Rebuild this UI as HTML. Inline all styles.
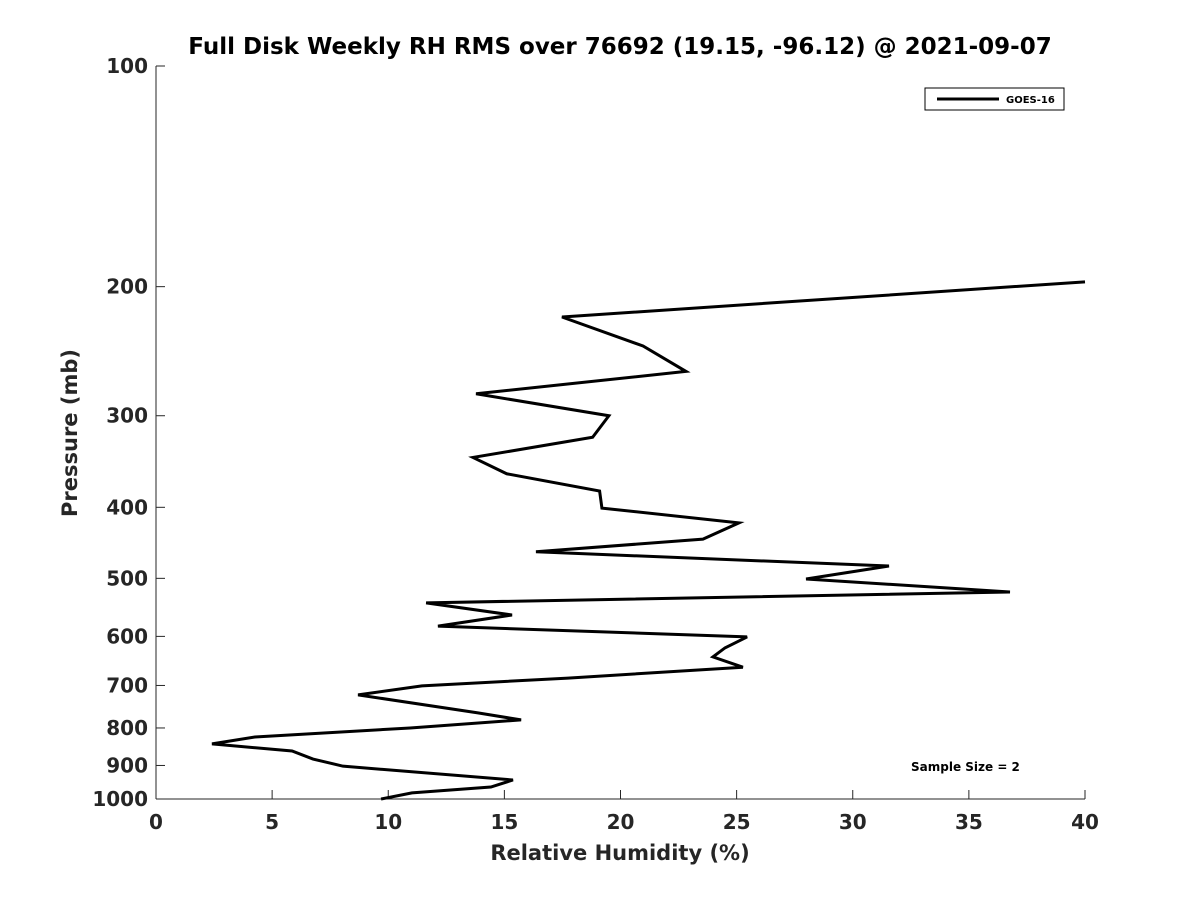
<!DOCTYPE html>
<html><head><meta charset="utf-8"><style>
body{margin:0;background:#fff;}
svg text{font-family:"DejaVu Sans","Liberation Sans",sans-serif;font-weight:bold;fill:#262626;}
</style></head><body>
<svg id="chart" width="1200" height="900" xmlns="http://www.w3.org/2000/svg">
<rect width="1200" height="900" fill="#fff"/>
<text x="620" y="54" font-size="23" text-anchor="middle" style="fill:#000">Full Disk Weekly RH RMS over 76692 (19.15, -96.12) @ 2021-09-07</text>
<g id="axes"></g>
<polyline id="line" fill="none" stroke="#000" stroke-width="3" stroke-linejoin="miter"/>
<g>
<rect x="925" y="88" width="139" height="22" fill="#fff" stroke="#000" stroke-width="1"/>
<line x1="937" y1="99" x2="999" y2="99" stroke="#000" stroke-width="3"/>
<text x="1006" y="103" font-size="10" style="fill:#000">GOES-16</text>
</g>
<text x="911" y="771" font-size="12" style="fill:#000">Sample Size = 2</text>
<text x="620" y="860" font-size="21" text-anchor="middle">Relative Humidity (%)</text>
<text transform="translate(77,433) rotate(-90)" font-size="21" text-anchor="middle">Pressure (mb)</text>
</svg>
<script>
const rh=[40,17.48,20.97,22.82,13.78,19.5,18.8,13.65,15.1,19.1,19.2,25.1,23.55,16.36,31.56,27.99,36.77,11.63,15.33,12.14,25.45,24.5,23.98,25.27,17.74,11.45,8.7,13.86,15.72,10.94,4.26,2.41,5.86,6.76,8.05,15.37,14.42,11.02,9.69];
const pres=[197,220,241,261,280,300,321,342,360,380,401,420,442,460,481,501,522,540,561,581,601,622,640,661,684,701,721,763,780,800,823,841,860,882,902,942,963,981,1000];
const xTicks=[0,5,10,15,20,25,30,35,40];
const yTicks=[100,200,300,400,500,600,700,800,900,1000];
const X0=156,X1=1085,Y0=66,Y1=799;
const sx=v=>X0+(v-0)/40*(X1-X0);
const sy=p=>Y0+Math.log10(p/100)*(Y1-Y0);
const NS="http://www.w3.org/2000/svg";
const ax=document.getElementById('axes');
function mk(t,a){const e=document.createElementNS(NS,t);for(const k in a)e.setAttribute(k,a[k]);ax.appendChild(e);return e;}
const xl=mk('line',{x1:X0,y1:Y1,x2:X1,y2:Y1,stroke:'#262626','stroke-width':1});


const yl=mk('line',{x1:X0,y1:Y0,x2:X0,y2:Y1,stroke:'#262626','stroke-width':1});


xTicks.forEach(v=>{
 mk('line',{x1:sx(v),y1:Y1,x2:sx(v),y2:Y1-9,stroke:'#262626'});
 const t=mk('text',{x:sx(v),y:Y1+30,'font-size':20,'text-anchor':'middle'});t.textContent=v;
 
 
});
yTicks.forEach(p=>{
 mk('line',{x1:X0,y1:sy(p),x2:X0+9,y2:sy(p),stroke:'#262626'});
 const t=mk('text',{x:X0-8,y:sy(p)+7,'font-size':20,'text-anchor':'end'});t.textContent=p;
 
 
});
document.getElementById('line').setAttribute('points',rh.map((v,i)=>sx(v)+','+sy(pres[i])).join(' '));
</script>
</body></html>
